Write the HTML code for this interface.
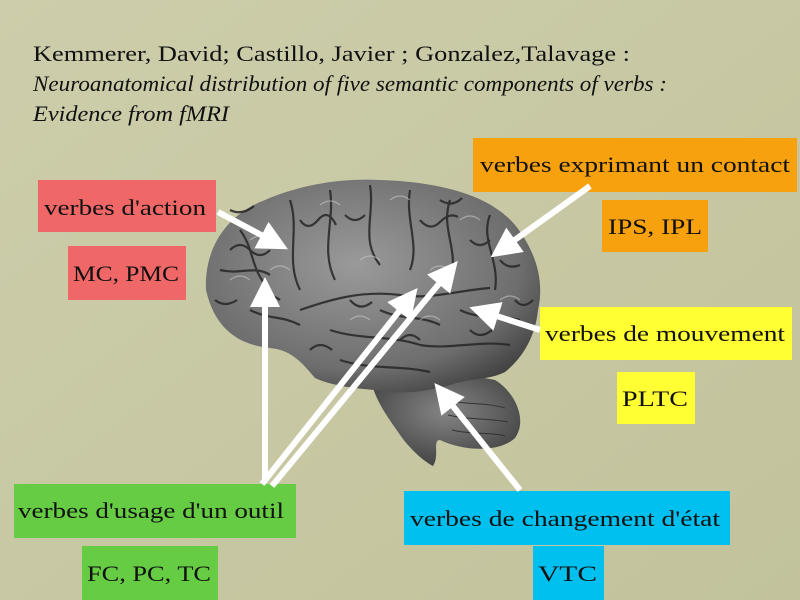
<!DOCTYPE html>
<html><head><meta charset="utf-8"><style>
html,body{margin:0;padding:0;width:800px;height:600px;overflow:hidden;background:#c9c9a6}
svg{display:block}
text{font-family:"Liberation Serif",serif;fill:#111}
</style></head><body>
<svg width="800" height="600" viewBox="0 0 800 600" xmlns="http://www.w3.org/2000/svg">
<defs>
<linearGradient id="bg" x1="0" y1="0" x2="1" y2="1"><stop offset="0" stop-color="#cdcdab"/><stop offset="1" stop-color="#c2c39c"/></linearGradient>
<radialGradient id="br" cx="0.45" cy="0.4" r="0.7"><stop offset="0" stop-color="#9a9a9a"/><stop offset="0.7" stop-color="#6e6e6e"/><stop offset="1" stop-color="#3a3a3a"/></radialGradient>
<radialGradient id="cb" cx="0.5" cy="0.4" r="0.7"><stop offset="0" stop-color="#858585"/><stop offset="1" stop-color="#3a3a3a"/></radialGradient>
<marker id="ah" markerWidth="5" markerHeight="5" refX="3.5" refY="2.5" orient="auto" markerUnits="strokeWidth"><path d="M0,0 L5,2.5 L0,5 Z" fill="#fff"/></marker>
</defs>
<rect width="800" height="600" fill="url(#bg)"/>
<text x="33" y="61" font-size="22" textLength="597" lengthAdjust="spacingAndGlyphs">Kemmerer, David; Castillo, Javier ; Gonzalez,Talavage :</text>
<text x="33" y="91" font-size="22" font-style="italic" textLength="634" lengthAdjust="spacingAndGlyphs">Neuroanatomical distribution of  five semantic components of  verbs :</text>
<text x="33" y="121" font-size="22" font-style="italic" textLength="196" lengthAdjust="spacingAndGlyphs">Evidence from fMRI</text>

<!-- brain -->
<path d="M372,385 C378,405 390,420 398,432 C410,450 425,462 433,466 C440,455 432,440 440,440 C465,452 500,452 515,438 C528,420 515,392 495,380 C460,372 410,376 372,385 Z" fill="url(#cb)"/>
<path d="M206,290 C204,250 225,215 265,200 C300,185 340,178 380,180 C440,182 490,195 515,225 C535,250 545,280 538,310 C535,340 520,360 505,372 C490,380 470,378 450,385 C425,392 400,395 375,390 C350,388 330,385 315,378 C300,360 290,350 270,348 C240,345 215,330 206,290 Z" fill="url(#br)"/>
<g fill="none" stroke="#262626" stroke-width="2.2" opacity="0.85">
<path d="M300,310 C330,300 360,290 400,295 C430,300 460,290 490,288"/>
<path d="M240,230 C255,250 250,270 270,290 M290,200 C300,230 285,260 300,290 M330,190 C335,220 320,250 335,280 M370,185 C375,215 360,240 380,265 M410,190 C405,220 420,245 410,270 M450,200 C440,230 460,250 450,280 M490,215 C480,240 500,260 495,290"/>
<path d="M220,270 C240,275 255,265 270,275 M330,330 C360,340 390,335 420,345 C450,350 480,340 510,345 M340,360 C370,370 400,365 430,372"/>
<path d="M380,310 C400,320 420,315 440,325 M460,310 C480,320 500,315 520,320 M250,310 C270,320 280,315 300,325"/>
<path d="M230,250 q10,-10 20,0 t20,0 M300,220 q8,12 18,0 t18,5 M345,215 q10,10 20,0 M420,220 q10,12 20,2 t18,-5 M470,240 q10,10 20,0 M500,260 q8,10 20,5 M260,300 q10,-8 20,0 M215,300 q10,8 22,0 M350,300 q10,12 22,2 M400,340 q10,-10 20,0 M470,330 q10,10 22,0 M310,350 q10,-10 22,0 M230,210 q12,6 24,-4 M440,200 q12,8 22,-2 M515,300 q8,10 18,0"/>
</g>
<g fill="none" stroke="#c8c8c8" stroke-width="1.3" opacity="0.6">
<path d="M250,240 q10,-8 20,0 M320,205 q10,-8 20,0 M390,200 q10,-8 20,0 M460,220 q10,-8 20,0 M270,270 q10,-8 20,0 M360,260 q10,-8 20,0 M430,270 q10,-8 20,0 M500,300 q10,-8 20,0 M350,320 q10,-8 20,0 M420,320 q10,-8 20,0 M230,280 q10,-8 20,0"/>
</g>
<g stroke="#333" stroke-width="1" fill="none"><path d="M445,400 C465,405 485,402 505,408 M448,415 C468,420 488,418 508,422 M452,430 C472,435 492,432 505,436"/></g>

<!-- boxes -->
<rect x="38" y="180" width="178" height="52" fill="#ef6767"/>
<text x="44" y="215" font-size="22" textLength="162" lengthAdjust="spacingAndGlyphs">verbes d'action</text>
<rect x="68" y="246" width="118" height="54" fill="#ef6767"/>
<text x="73" y="281" font-size="22" textLength="106" lengthAdjust="spacingAndGlyphs">MC, PMC</text>

<rect x="473" y="138" width="324" height="54" fill="#f7a10f"/>
<text x="480" y="172" font-size="22" textLength="310" lengthAdjust="spacingAndGlyphs">verbes exprimant un contact</text>
<rect x="602" y="200" width="106" height="52" fill="#f7a10f"/>
<text x="608" y="234" font-size="22" textLength="94" lengthAdjust="spacingAndGlyphs">IPS, IPL</text>

<rect x="540" y="307" width="252" height="53" fill="#ffff33"/>
<text x="545" y="341" font-size="22" textLength="240" lengthAdjust="spacingAndGlyphs">verbes de mouvement</text>
<rect x="617" y="372" width="78" height="52" fill="#ffff33"/>
<text x="622" y="406" font-size="22" textLength="66" lengthAdjust="spacingAndGlyphs">PLTC</text>

<rect x="14" y="484" width="282" height="54" fill="#66cc44"/>
<text x="18" y="518" font-size="22" textLength="266" lengthAdjust="spacingAndGlyphs">verbes d'usage d'un outil</text>
<rect x="82" y="546" width="136" height="54" fill="#66cc44"/>
<text x="87" y="581" font-size="22" textLength="124" lengthAdjust="spacingAndGlyphs">FC, PC, TC</text>

<rect x="404" y="491" width="326" height="54" fill="#00c0f0"/>
<text x="410" y="526" font-size="22" textLength="310" lengthAdjust="spacingAndGlyphs">verbes de changement d'état</text>
<rect x="533" y="546" width="71" height="54" fill="#00c0f0"/>
<text x="538" y="581" font-size="22" textLength="59" lengthAdjust="spacingAndGlyphs">VTC</text>

<!-- arrows -->
<g stroke="#fff" stroke-width="6" fill="none" marker-end="url(#ah)">
<line x1="218" y1="212" x2="280" y2="245"/>
<line x1="590" y1="186" x2="498" y2="252"/>
<line x1="540" y1="330" x2="478" y2="310"/>
<line x1="520" y1="490" x2="440" y2="390"/>
<line x1="265" y1="482" x2="265" y2="286"/>
<line x1="262" y1="484" x2="412" y2="295"/>
<line x1="272" y1="486" x2="452" y2="268"/>
</g>
</svg>
</body></html>
